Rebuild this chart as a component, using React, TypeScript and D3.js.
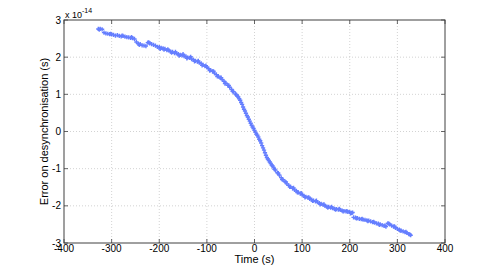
import React from "react";
import * as d3 from "d3";

const mainTimes = [
  -328, -324, -320, -316, -312, -308, -304, -300, -296, -292, -288, -284, -280, -276, -272, -268, -264, -260, -256, -252,
  -248, -244, -240, -236, -232, -228, -224, -220, -216, -212, -208, -204, -200, -196, -192, -188, -184, -180, -176, -172,
  -168, -164, -160, -156, -152, -148, -144, -140, -136, -132, -128, -124, -120, -116, -112, -108, -104, -100, -96, -92,
  -88, -84, -80, -76, -72, -68, -64, -60, -56, -52, -48, -44, -40, -36, -32, -28, -24, -20, -16, -12,
  -8, -4, 0, 4, 8, 12, 16, 20, 24, 28, 32, 36, 40, 44, 48, 52, 56, 60, 64, 68,
  72, 76, 80, 84, 88, 92, 96, 100, 104, 108, 112, 116, 120, 124, 128, 132, 136, 140, 144, 148,
  152, 156, 160, 164, 168, 172, 176, 180, 184, 188, 192, 196, 200, 204, 208, 212, 216, 220, 224, 228,
  232, 236, 240, 244, 248, 252, 256, 260, 264, 268, 272, 276, 280, 284, 288, 292, 296, 300, 304, 308,
  312, 316, 320, 324, 328,
];
const mainValues = [
  2.76, 2.76, 2.75, 2.66, 2.64, 2.63, 2.62, 2.61, 2.6, 2.58, 2.59, 2.57, 2.56, 2.57, 2.55, 2.54, 2.53, 2.52, 2.51, 2.49,
  2.41, 2.36, 2.35, 2.32, 2.31, 2.3, 2.39, 2.37, 2.35, 2.33, 2.31, 2.28, 2.27, 2.25, 2.24, 2.22, 2.19, 2.18, 2.15, 2.14,
  2.11, 2.1, 2.08, 2.06, 2.05, 2.03, 2.02, 1.99, 1.98, 1.95, 1.93, 1.9, 1.88, 1.85, 1.83, 1.79, 1.76, 1.73, 1.69, 1.65,
  1.62, 1.57, 1.53, 1.49, 1.44, 1.4, 1.35, 1.3, 1.24, 1.19, 1.13, 1.07, 1.01, 0.95, 0.88, 0.78, 0.66, 0.55, 0.43, 0.33,
  0.22, 0.12, 0.03, -0.07, -0.15, -0.25, -0.38, -0.5, -0.64, -0.74, -0.82, -0.9, -0.97, -1.04, -1.11, -1.17, -1.24, -1.3, -1.35, -1.41,
  -1.45, -1.49, -1.53, -1.57, -1.6, -1.64, -1.67, -1.7, -1.73, -1.76, -1.78, -1.81, -1.83, -1.86, -1.88, -1.9, -1.93, -1.95, -1.97, -2.0,
  -2.02, -2.03, -2.05, -2.06, -2.08, -2.09, -2.1, -2.11, -2.13, -2.14, -2.15, -2.16, -2.17, -2.19, -2.31, -2.32, -2.33, -2.35, -2.36, -2.37,
  -2.38, -2.39, -2.4, -2.42, -2.44, -2.45, -2.47, -2.48, -2.5, -2.52, -2.54, -2.56, -2.47, -2.5, -2.53, -2.56, -2.59, -2.62, -2.64, -2.67,
  -2.69, -2.71, -2.73, -2.76, -2.79,
];

const extraTimes = [
  -326, -302, -278, -258, -242, -222, -198, -190, -182, -174, -166, -158, -150, -142, -134, -126, -118, -110, -102, -94,
  -86, -78, -70, -62, -54, -46, -38, -34, -30, -26, -22, -18, -14, -10, -6, -2, 2, 6, 10, 14,
  18, 22, 26, 30, 34, 38, 42, 50, 58, 66,
  74, 82, 90, 98, 106, 114, 122, 130, 138, 146, 154, 162, 170, 178, 186, 194, 202, 206, 214, 226,
  238, 250, 262, 274, 282, 294, 306, 318, 326,
];
const extraValues = [
  2.74, 2.63, 2.58, 2.54, 2.33, 2.4, 2.22, 2.2, 2.21, 2.12, 2.14, 2.04, 2.08, 1.97, 2.01, 1.89, 1.9, 1.78, 1.77, 1.64,
  1.62, 1.48, 1.45, 1.29, 1.24, 1.08, 0.99, 0.93, 0.84, 0.73, 0.6, 0.49, 0.39, 0.28, 0.17, 0.08, -0.02, -0.1, -0.21, -0.31,
  -0.44, -0.57, -0.7, -0.78, -0.86, -0.93, -1.02, -1.12, -1.29, -1.36,
  -1.49, -1.52, -1.64, -1.66, -1.77, -1.77, -1.87, -1.86, -1.96, -1.96, -2.05, -2.03, -2.1, -2.08, -2.15, -2.14, -2.2, -2.18, -2.34, -2.35,
  -2.41, -2.43, -2.51, -2.53, -2.48, -2.55, -2.67, -2.7, -2.77,
];

const xTicks = [-400, -300, -200, -100, 0, 100, 200, 300, 400];
const yTicks = [-3, -2, -1, 0, 1, 2, 3];

const W = 492;
const H = 273;
const M = { left: 64, right: 445, top: 20, bottom: 243 };

export default function App() {
  const x = d3.scaleLinear().domain([-400, 400]).range([M.left, M.right]);
  const y = d3.scaleLinear().domain([-3, 3]).range([M.bottom, M.top]);
  const pts: [number, number][] = [
    ...mainTimes.map((t, i) => [t, mainValues[i]] as [number, number]),
    ...extraTimes.map((t, i) => [t, extraValues[i]] as [number, number]),
  ];
  const cross = d3.symbol().type(d3.symbolCross).size(10)()!;
  const font = "'Liberation Sans', Arial, Helvetica, sans-serif";
  const axisColor = "#404040";
  const tl = 4;
  const fmt = (t: number) => (t < 0 ? "-" + Math.abs(t) : String(t));
  return (
    <svg width={W} height={H} style={{ position: "absolute", left: 0, top: 0, background: "#fff" }} fontFamily={font}>
      <rect x={0} y={0} width={W} height={H} fill="#fff" />
      <g stroke="#c8c8c8" strokeWidth={0.8} strokeDasharray="1,2">
        {xTicks.slice(1, -1).map((t) => (
          <line key={"gx" + t} x1={x(t)} x2={x(t)} y1={M.top} y2={M.bottom} />
        ))}
        {yTicks.slice(1, -1).map((t) => (
          <line key={"gy" + t} x1={M.left} x2={M.right} y1={y(t)} y2={y(t)} />
        ))}
      </g>
      <g fill="#3f5fff" opacity={0.8}>
        {pts.map(([t, v], i) => (
          <path key={i} d={cross} transform={`translate(${x(t)},${y(v)})`} />
        ))}
      </g>
      <rect x={M.left} y={M.top} width={M.right - M.left} height={M.bottom - M.top} fill="none" stroke={axisColor} strokeWidth={1} />
      <g stroke={axisColor} strokeWidth={0.8}>
        {xTicks.map((t) => (
          <g key={"tx" + t}>
            <line x1={x(t)} x2={x(t)} y1={M.bottom} y2={M.bottom - tl} />
            <line x1={x(t)} x2={x(t)} y1={M.top} y2={M.top + tl} />
          </g>
        ))}
        {yTicks.map((t) => (
          <g key={"ty" + t}>
            <line x1={M.left} x2={M.left + tl} y1={y(t)} y2={y(t)} />
            <line x1={M.right} x2={M.right - tl} y1={y(t)} y2={y(t)} />
          </g>
        ))}
      </g>
      <g fontSize={10} fill="#000">
        {xTicks.map((t) => (
          <text key={"lx" + t} x={x(t)} y={M.bottom + 9} textAnchor="middle">
            {fmt(t)}
          </text>
        ))}
        {yTicks.map((t) => (
          <text key={"ly" + t} x={M.left - 3} y={y(t) + 3.5} textAnchor="end">
            {fmt(t)}
          </text>
        ))}
      </g>
      <text x={M.left + 1} y={18} fontSize={9}>
        x 10
        <tspan dy={-5} fontSize={7}>-14</tspan>
      </text>
      <text x={x(0)} y={263} fontSize={11} textAnchor="middle">
        Time (s)
      </text>
      <text transform={`translate(48,${(M.top + M.bottom) / 2}) rotate(-90)`} fontSize={11} textAnchor="middle">
        Error on desynchronisation (s)
      </text>
    </svg>
  );
}
